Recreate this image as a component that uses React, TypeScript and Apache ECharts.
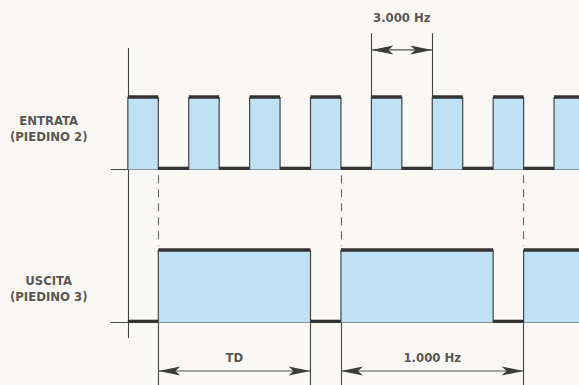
import React, { useEffect, useRef } from "react";
import * as echarts from "echarts";

// Time axis in periods of the 3.000 Hz input signal
const inputRise = [0, 1, 2, 3, 4, 5, 6, 7];
const inputFall = [0.5, 1.5, 2.5, 3.5, 4.5, 5.5, 6.5, 7.5];
const outputRise = [0.5, 3.5, 6.5];
const outputFall = [3, 6, 9];
const triggerTimes = [0.5, 3.5, 6.5];
const channelNames = ["ENTRATA\n(PIEDINO 2)", "USCITA\n(PIEDINO 3)"];
const dimLabels = ["3.000 Hz", "TD", "1.000 Hz"];

// layout (axis units)
const X_MIN = -2.1;
const X_MAX = 7.41;
const Y_MIN = -0.862;
const Y_MAX = 4.448;
const IN_BASE = 2.11;
const OUT_BASE = 0;
const LINE_START = -0.28;
const AXIS_TOP = 3.786;
const AXIS_BOTTOM = -0.214;
const DASH_TOP = 2.03;
const DASH_BOTTOM = 1.06;
const DIM_LOW_Y = -0.669;
const DIM_HIGH_Y = 3.759;
const EXT_HIGH_TOP = 3.99;
const LABEL_X = -1.3;

const FILL = "#c0e1f3";
const DARK = "#333333";
const EDGE = "#444444";
const BG = "#f9f8f4";
const FONT = "'DejaVu Sans Condensed', 'Liberation Sans Narrow', 'Arial Narrow', sans-serif";

export default function App() {
  const ref = useRef<HTMLDivElement>(null);
  useEffect(() => {
    if (!ref.current) return;
    const chart = echarts.init(ref.current, null, { renderer: "svg" });

    const pulses = [
      ...inputRise.map((r, i) => [r, inputFall[i], IN_BASE]),
      ...outputRise.map((r, i) => [r, outputFall[i], OUT_BASE]),
    ];
    const lows = [
      ...inputFall.slice(0, -1).map((f, i) => [f, inputRise[i + 1], IN_BASE]),
      [0, outputRise[0], OUT_BASE],
      ...outputFall.slice(0, -1).map((f, i) => [f, outputRise[i + 1], OUT_BASE]),
    ];
    const dims = [
      [inputRise[4], inputRise[5], DIM_HIGH_Y],
      [outputRise[0], outputFall[0], DIM_LOW_Y],
      [outputRise[1], outputRise[2], DIM_LOW_Y],
    ];
    const solidLines = [
      { coords: [[0, AXIS_BOTTOM], [0, AXIS_TOP]] },
      { coords: [[LINE_START, IN_BASE], [X_MAX, IN_BASE]] },
      { coords: [[LINE_START, OUT_BASE], [X_MAX, OUT_BASE]] },
      ...[outputRise[0], outputFall[0], outputRise[1], outputRise[2]].map((t) => ({
        coords: [[t, OUT_BASE], [t, Y_MIN]],
      })),
      ...[inputRise[4], inputRise[5]].map((t) => ({
        coords: [[t, IN_BASE + 1], [t, EXT_HIGH_TOP]],
      })),
    ];
    const dashedLines = triggerTimes.map((t) => ({ coords: [[t, DASH_TOP], [t, DASH_BOTTOM]] }));

    const textPoints = [
      { name: channelNames[0], value: [LABEL_X, IN_BASE + 0.56] },
      { name: channelNames[1], value: [LABEL_X, OUT_BASE + 0.47] },
      { name: dimLabels[0], value: [(inputRise[4] + inputRise[5]) / 2, 4.2] },
      { name: dimLabels[1], value: [(outputRise[0] + outputFall[0]) / 2, -0.476] },
      { name: dimLabels[2], value: [(outputRise[1] + outputRise[2]) / 2, -0.476] },
    ];

    chart.setOption({
      animation: false,
      backgroundColor: BG,
      grid: { left: 0, right: 0, top: 0, bottom: 0 },
      xAxis: { type: "value", min: X_MIN, max: X_MAX, show: false },
      yAxis: { type: "value", min: Y_MIN, max: Y_MAX, show: false },
      series: [
        {
          type: "custom",
          renderItem: (params: any, api: any) => {
            const r = api.value(0), f = api.value(1), b = api.value(2);
            const p0 = api.coord([r, b]);
            const p1 = api.coord([f, b + 1]);
            return {
              type: "group",
              children: [
                { type: "rect", shape: { x: p0[0], y: p1[1], width: p1[0] - p0[0], height: p0[1] - p1[1] }, style: { fill: FILL } },
                { type: "line", shape: { x1: p0[0], y1: p0[1], x2: p0[0], y2: p1[1] }, style: { stroke: EDGE, lineWidth: 1.2 } },
                { type: "line", shape: { x1: p1[0], y1: p0[1], x2: p1[0], y2: p1[1] }, style: { stroke: EDGE, lineWidth: 1.2 } },
                { type: "line", shape: { x1: p0[0], y1: p1[1], x2: p1[0], y2: p1[1] }, style: { stroke: DARK, lineWidth: 3.5 } },
              ],
            };
          },
          data: pulses,
          z: 2,
        },
        {
          type: "lines",
          coordinateSystem: "cartesian2d",
          polyline: false,
          symbol: "none",
          lineStyle: { color: EDGE, width: 1.1, opacity: 1 },
          data: solidLines,
          z: 1,
        },
        {
          type: "lines",
          coordinateSystem: "cartesian2d",
          symbol: "none",
          lineStyle: { color: "#666", width: 1.1, type: [8, 6], opacity: 1 },
          data: dashedLines,
          z: 1,
        },
        {
          type: "custom",
          renderItem: (params: any, api: any) => {
            const a = api.coord([api.value(0), api.value(2)]);
            const b = api.coord([api.value(1), api.value(2)]);
            return {
              type: "line",
              shape: { x1: a[0], y1: a[1] - 1.2, x2: b[0], y2: b[1] - 1.2 },
              style: { stroke: DARK, lineWidth: 3.2 },
            };
          },
          data: lows,
          z: 3,
        },
        {
          type: "custom",
          renderItem: (params: any, api: any) => {
            const a = api.coord([api.value(0), api.value(2)]);
            const b = api.coord([api.value(1), api.value(2)]);
            const y = a[1];
            const L = 22, H = 4.5, N = 5;
            return {
              type: "group",
              children: [
                { type: "line", shape: { x1: a[0], y1: y, x2: b[0], y2: y }, style: { stroke: "#555", lineWidth: 1.2 } },
                { type: "polygon", shape: { points: [[a[0], y], [a[0] + L, y - H], [a[0] + L - N, y], [a[0] + L, y + H]] }, style: { fill: "#3c3c3c" } },
                { type: "polygon", shape: { points: [[b[0], y], [b[0] - L, y - H], [b[0] - L + N, y], [b[0] - L, y + H]] }, style: { fill: "#3c3c3c" } },
              ],
            };
          },
          data: dims,
          z: 4,
        },
        {
          type: "scatter",
          symbolSize: 1,
          itemStyle: { color: "rgba(0,0,0,0)" },
          label: {
            show: true,
            position: "inside",
            formatter: (p: any) => p.name,
            color: "#2a2a2a",
            fontFamily: FONT,
            fontWeight: "bold",
            fontSize: 13,
            lineHeight: 16,
            align: "center",
          },
          data: textPoints,
          z: 5,
        },
      ],
    });
    return () => chart.dispose();
  }, []);
  return (
    <div
      ref={ref}
      style={{ position: "fixed", left: 0, top: 0, width: 579, height: 385 }}
    />
  );
}
